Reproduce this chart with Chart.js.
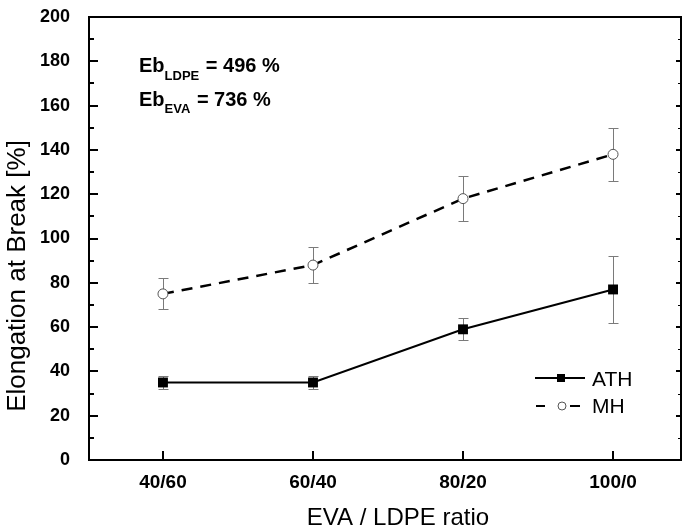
<!DOCTYPE html>
<html><head><meta charset="utf-8">
<script src="https://cdn.jsdelivr.net/npm/chart.js@4.4.0/dist/chart.umd.min.js"></script>
<style>html,body{margin:0;padding:0;background:#fff}</style>
</head><body>
<canvas id="c" width="682" height="527"></canvas>
<script>
const categories = ['40/60', '60/40', '80/20', '100/0'];
const athValues = [35, 35, 59, 77];
const athErrors = [3, 3, 5, 15];
const mhValues = [75, 88, 118, 138];
const mhErrors = [7, 8, 10, 12];
const yTicks = [0, 20, 40, 60, 80, 100, 120, 140, 160, 180, 200];
const yMinorTicks = [10, 30, 50, 70, 90, 110, 130, 150, 170, 190];

const FONT = "'Liberation Sans', Arial, sans-serif";

const customPlugin = {
  id: 'custom',
  beforeDatasetsDraw(chart) {
    const ctx = chart.ctx, xs = chart.scales.x, ys = chart.scales.y;
    ctx.save();
    ctx.strokeStyle = '#7a7a7a';
    ctx.lineWidth = 1;
    [[athValues, athErrors], [mhValues, mhErrors]].forEach(([vals, errs]) => {
      vals.forEach((v, i) => {
        const x = Math.round(xs.getPixelForValue(i)) + 0.5;
        const yt = Math.round(ys.getPixelForValue(v + errs[i])) + 0.5;
        const yb = Math.round(ys.getPixelForValue(v - errs[i])) + 0.5;
        ctx.beginPath();
        ctx.moveTo(x, yt); ctx.lineTo(x, yb);
        ctx.moveTo(x - 5, yt); ctx.lineTo(x + 5, yt);
        ctx.moveTo(x - 5, yb); ctx.lineTo(x + 5, yb);
        ctx.stroke();
      });
    });
    ctx.restore();
  },
  afterDraw(chart) {
    const ctx = chart.ctx, xs = chart.scales.x, ys = chart.scales.y;
    const a = chart.chartArea;
    ctx.save();
    // frame
    ctx.strokeStyle = '#000';
    ctx.lineWidth = 2;
    ctx.strokeRect(a.left, a.top, a.right - a.left, a.bottom - a.top);
    // inward ticks
    ctx.beginPath();
    yTicks.forEach(v => {
      const y = Math.round(ys.getPixelForValue(v));
      ctx.moveTo(a.left, y); ctx.lineTo(a.left + 9, y);
      ctx.moveTo(a.right, y); ctx.lineTo(a.right - 5, y);
    });
    yMinorTicks.forEach(v => {
      const y = Math.round(ys.getPixelForValue(v));
      ctx.moveTo(a.left, y); ctx.lineTo(a.left + 5, y);
    });
    categories.forEach((c, i) => {
      const x = Math.round(xs.getPixelForValue(i));
      ctx.moveTo(x, a.bottom); ctx.lineTo(x, a.bottom - 9);
    });
    ctx.stroke();
    ctx.lineWidth = 1;
    ctx.beginPath();
    yMinorTicks.forEach(v => {
      const y = Math.round(ys.getPixelForValue(v)) + 0.5;
      ctx.moveTo(a.right, y); ctx.lineTo(a.right - 3, y);
    });
    ctx.stroke();

    // annotation
    ctx.fillStyle = '#000';
    ctx.textBaseline = 'alphabetic';
    ctx.textAlign = 'left';
    const ann = [['LDPE', ' = 496 %', 72, 80], ['EVA', ' = 736 %', 106, 113]];
    ann.forEach(([sub, rest, by, sy]) => {
      let x = 139;
      ctx.font = 'bold 20px ' + FONT;
      ctx.fillText('Eb', x, by);
      x += ctx.measureText('Eb').width;
      ctx.font = 'bold 13px ' + FONT;
      ctx.fillText(sub, x, sy);
      x += ctx.measureText(sub).width;
      ctx.font = 'bold 20px ' + FONT;
      ctx.fillText(rest, x + 1, by);
    });

    // legend
    ctx.strokeStyle = '#000';
    ctx.lineWidth = 2;
    ctx.beginPath();
    ctx.moveTo(535, 378); ctx.lineTo(585, 378);
    ctx.stroke();
    ctx.fillRect(557, 374, 8, 8);
    ctx.beginPath();
    ctx.moveTo(536, 406); ctx.lineTo(545, 406);
    ctx.moveTo(570, 406); ctx.lineTo(580, 406);
    ctx.stroke();
    ctx.lineWidth = 1;
    ctx.strokeStyle = '#555';
    ctx.fillStyle = '#fff';
    ctx.beginPath();
    ctx.arc(562, 406, 4, 0, Math.PI * 2);
    ctx.fill(); ctx.stroke();
    ctx.fillStyle = '#000';
    ctx.font = '21px ' + FONT;
    ctx.fillText('ATH', 592, 386);
    ctx.fillText('MH', 592, 413);

    // axis titles
    ctx.font = '24px ' + FONT;
    ctx.textAlign = 'center';
    ctx.fillText('EVA / LDPE ratio', 398, 525);
    ctx.save();
    ctx.translate(25, 276);
    ctx.rotate(-Math.PI / 2);
    ctx.font = '26px ' + FONT;
    ctx.fillText('Elongation at Break [%]', 0, 0);
    ctx.restore();
    ctx.restore();
  }
};

new Chart(document.getElementById('c'), {
  type: 'line',
  data: {
    datasets: [
      {
        label: 'ATH',
        data: athValues.map((v, i) => ({x: i, y: v})),
        borderColor: '#000',
        borderWidth: 2,
        pointStyle: 'rect',
        pointRadius: 7,
        pointBackgroundColor: '#000',
        pointBorderColor: '#000',
        pointBorderWidth: 0,
        tension: 0
      },
      {
        label: 'MH',
        data: mhValues.map((v, i) => ({x: i, y: v})),
        borderColor: '#000',
        borderWidth: 2.5,
        borderDash: [11, 8],
        pointStyle: 'circle',
        pointRadius: 5,
        pointBackgroundColor: '#fff',
        pointBorderColor: '#555',
        pointBorderWidth: 1,
        tension: 0
      }
    ]
  },
  options: {
    responsive: false,
    devicePixelRatio: 1,
    animation: false,
    layout: {autoPadding: false, padding: {left: 0, top: 17, right: 1, bottom: 0}},
    plugins: {legend: {display: false}, tooltip: {enabled: false}},
    scales: {
      x: {
        type: 'linear',
        min: -0.493,
        max: 3.453,
        afterBuildTicks: s => { s.ticks = categories.map((c, i) => ({value: i})); },
        afterFit: s => { s.height = 67; s.paddingLeft = 0; s.paddingRight = 0; },
        ticks: {
          callback: v => categories[v],
          font: {family: FONT, size: 19, weight: 'bold'},
          color: '#000',
          padding: 3,
          maxRotation: 0,
          autoSkip: false
        },
        grid: {display: false},
        border: {display: true, color: '#000', width: 2}
      },
      y: {
        min: 0,
        max: 200,
        afterBuildTicks: s => { s.ticks = yTicks.map(v => ({value: v})); },
        afterFit: s => { s.width = 89; s.paddingTop = 0; s.paddingBottom = 0; },
        ticks: {
          font: {family: FONT, size: 18, weight: 'bold'},
          color: '#000',
          padding: 11
        },
        grid: {display: false},
        border: {display: true, color: '#000', width: 2}
      }
    }
  },
  plugins: [customPlugin]
});
</script>
</body></html>
